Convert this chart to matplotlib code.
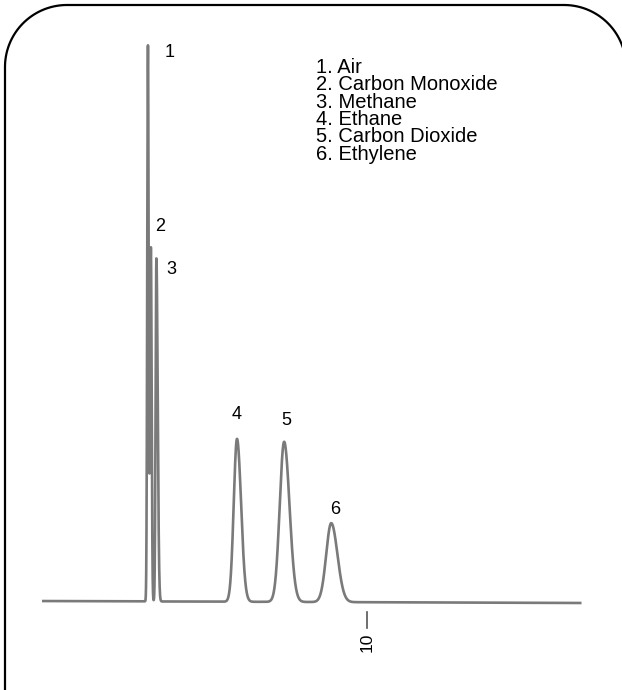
import numpy as np
import matplotlib
matplotlib.use("Agg")
import matplotlib.pyplot as plt
from matplotlib.transforms import IdentityTransform
from matplotlib.lines import Line2D

plt.rcParams['font.family'] = ['Liberation Sans', 'DejaVu Sans']

# peak table (retention time in min, height in arbitrary units, widths left/right)
peak_no = ["1", "2", "3", "4", "5", "6"]
compounds = ["Air", "Carbon Monoxide", "Methane", "Ethane", "Carbon Dioxide", "Ethylene"]
rt = [3.26, 3.35, 3.52, 6.00, 7.45, 8.90]
height = [100.0, 63.7, 61.7, 29.3, 28.8, 14.2]
sig_left = [0.022, 0.024, 0.024, 0.100, 0.135, 0.155]
sig_right = [0.022, 0.024, 0.040, 0.125, 0.165, 0.190]

# slow baseline drift
base_t = [0.0, 16.6]
base_y = [0.0, -0.35]

# where the number labels sit relative to each apex (pixels)
label_off = [(22, -7), (9, 20), (15, -12), (0, 24), (2, 20), (4, 13)]

t = np.linspace(0.0, 16.6, 12000)
signal = np.interp(t, base_t, base_y)
for r, h, sl, sr in zip(rt, height, sig_left, sig_right):
    s = np.where(t < r, sl, sr)
    signal = signal + h*np.exp(-0.5*((t - r)/s)**2)

fig = plt.figure(figsize=(6.22, 6.90), dpi=100)
ax = fig.add_axes([0, 0, 1, 1])
ax.set_xlim(-1.292, 17.846)
ax.set_ylim(-16.0, 108.1)
ax.axis("off")

ax.plot(t, signal, color="#7a7a7a", lw=1.9, solid_capstyle="butt")

# number above each peak
for lab, r, h, off in zip(peak_no, rt, height, label_off):
    ax.annotate(lab, (r, h), xytext=off, textcoords="offset pixels",
                ha="center", va="center", fontsize=13, color="black")

# time marker at 10 min
ax.plot([10, 10], [-2.0, -4.9], color="#555555", lw=1.2)
ax.text(10, -7.4, "10", rotation=90, ha="center", va="center", fontsize=12.5)

# compound list
legend = "\n".join(f"{n}. {c}" for n, c in zip(peak_no, compounds))
ax.text(8.43, 97.7, legend, ha="left", va="top", fontsize=14.5,
        linespacing=0.89, color="black")

# rounded frame in figure pixels (right side and bottom run off the page)
R = 62
L, T, Rt, B = 5, 685, 626, -20
a = np.linspace(0, np.pi/2, 40)
xs = np.concatenate([[Rt], Rt - R + R*np.cos(a), L + R - R*np.sin(a), [L]])
ys = np.concatenate([[B], T - R + R*np.sin(a), T - R + R*np.cos(a), [B]])
fig.lines.append(Line2D(xs, ys, transform=IdentityTransform(),
                        color="black", lw=1.6))

fig.savefig("out.png", dpi=100)
